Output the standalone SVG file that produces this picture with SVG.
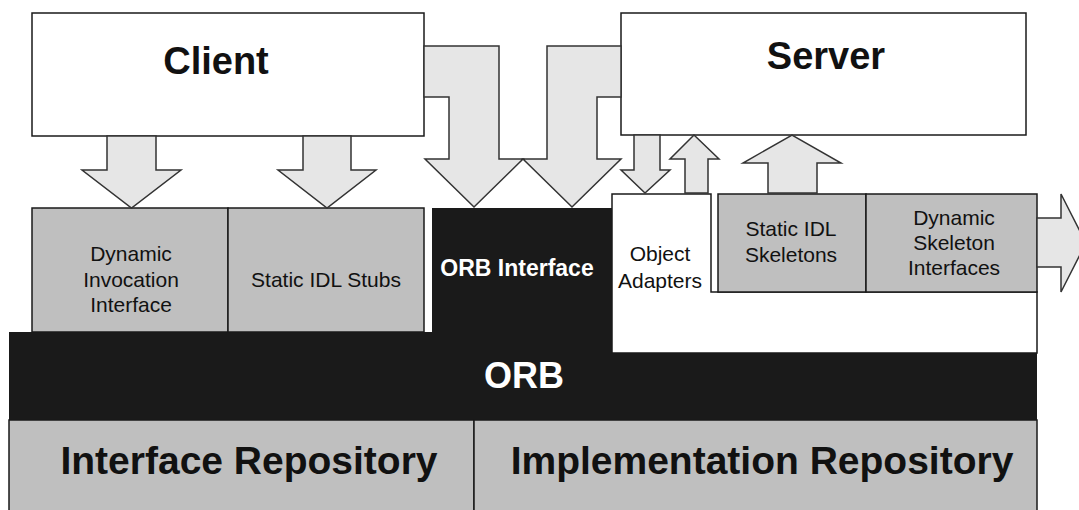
<svg xmlns="http://www.w3.org/2000/svg" width="1079" height="510" viewBox="0 0 1079 510">
  <style>
    .box { stroke: #1a1a1a; stroke-width: 1.5; }
    .white { fill: #ffffff; }
    .grey { fill: #bfbfbf; }
    .dark { fill: #1a1a1a; }
    .arrow { fill: #e6e6e6; stroke: #333333; stroke-width: 1.5; stroke-linejoin: miter; }
    text { font-family: "Liberation Sans", Arial, sans-serif; text-anchor: middle; fill: #111111; }
    .title { font-size: 38px; font-weight: bold; }
    .label { font-size: 21px; }
    .repo { font-size: 39px; font-weight: bold; }
    .inv { fill: #ffffff; font-weight: bold; }
  </style>

  <rect width="1079" height="510" fill="#ffffff"/>

  <!-- ORB core layer -->
  <g id="orb">
    <rect class="dark" x="9" y="332" width="1028" height="88"/>
    <text class="inv" x="524" y="388" font-size="36">ORB</text>
  </g>

  <g id="orb-interface">
    <rect class="dark" x="432" y="208" width="180" height="125"/>
    <text class="inv" x="517" y="276" font-size="23">ORB Interface</text>
  </g>

  <!-- repositories underneath the ORB -->
  <g id="interface-repository">
    <rect class="box grey" x="9" y="420" width="465" height="100"/>
    <text class="repo" x="249" y="474">Interface Repository</text>
  </g>
  <g id="implementation-repository">
    <rect class="box grey" x="474" y="420" width="563" height="100"/>
    <text class="repo" x="762" y="474">Implementation Repository</text>
  </g>

  <!-- client side -->
  <g id="client">
    <rect class="box white" x="32" y="13" width="392" height="123"/>
    <text class="title" x="216" y="74">Client</text>
  </g>
  <g id="dynamic-invocation">
    <rect class="box grey" x="32" y="208" width="196" height="124"/>
    <text class="label" x="131" y="261">Dynamic</text>
    <text class="label" x="131" y="287">Invocation</text>
    <text class="label" x="131" y="312">Interface</text>
  </g>
  <g id="static-stubs">
    <rect class="box grey" x="228" y="208" width="196" height="124"/>
    <text class="label" x="326" y="287">Static IDL Stubs</text>
  </g>

  <!-- server side -->
  <g id="server">
    <rect class="box white" x="621" y="13" width="405" height="122"/>
    <text class="title" x="826" y="69">Server</text>
  </g>
  <g id="object-adapters">
    <polygon class="box white" points="612,194 711,194 711,292 1037,292 1037,353 612,353"/>
    <text class="label" x="660" y="261">Object</text>
    <text class="label" x="660" y="288">Adapters</text>
  </g>
  <g id="static-skeletons">
    <rect class="box grey" x="718" y="194" width="148" height="98"/>
    <text class="label" x="791" y="236">Static IDL</text>
    <text class="label" x="791" y="262">Skeletons</text>
  </g>
  <g id="dynamic-skeleton">
    <rect class="box grey" x="866" y="194" width="171" height="98"/>
    <text class="label" x="954" y="225">Dynamic</text>
    <text class="label" x="954" y="250">Skeleton</text>
    <text class="label" x="954" y="275">Interfaces</text>
  </g>

  <!-- block arrows between the layers -->
  <g id="connectors">
    <polygon class="arrow" points="107,136 156,136 156,170 181,170 131.5,208 82,170 107,170"/>
    <polygon class="arrow" points="303,136 351,136 351,170 376,170 327,208 278,170 303,170"/>
    <polygon class="arrow" points="424,46 499,46 499,159 523,159 474,207 425,159 449,159 449,97 424,97"/>
    <polygon class="arrow" points="621,46 547,46 547,159 523,159 572,207 621,159 597,159 597,97 621,97"/>
    <polygon class="arrow" points="634,135 660,135 660,170 670,170 645,193 621,170 634,170"/>
    <polygon class="arrow" points="685,193 708,193 708,159 719,159 694,135 670,159 685,159"/>
    <polygon class="arrow" points="768,193 817,193 817,163 841,163 792,135 743,163 768,163"/>
    <polygon class="arrow" points="1037,218 1061,218 1061,194 1086,243 1061,292 1061,267 1037,267"/>
  </g>
</svg>
